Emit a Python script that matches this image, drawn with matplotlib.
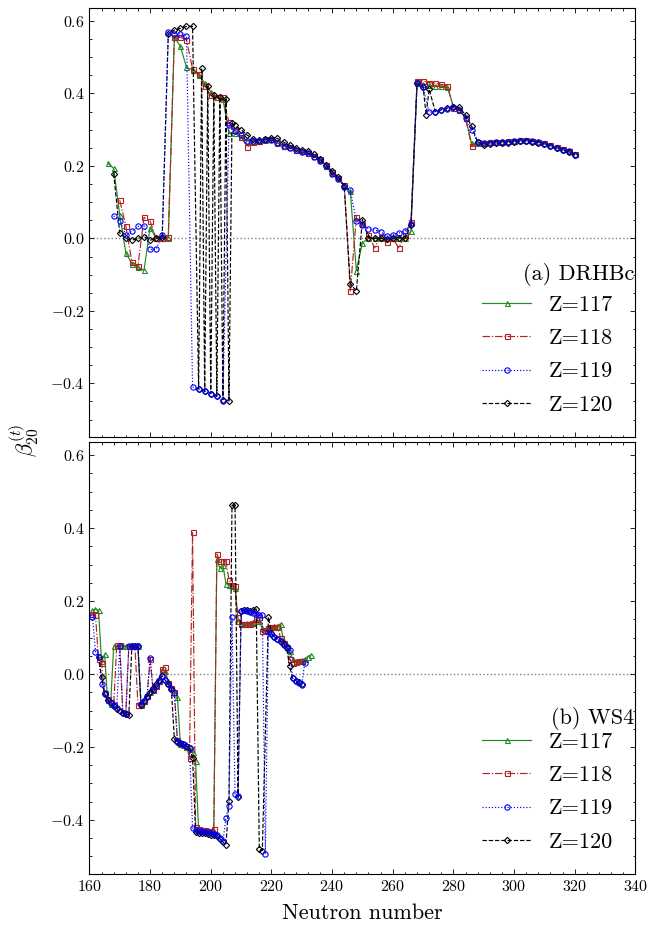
import matplotlib
matplotlib.use('Agg')
import matplotlib.pyplot as plt
import numpy as np
from matplotlib.ticker import MultipleLocator

plt.rcParams['font.family'] = 'cmr10'
plt.rcParams['mathtext.fontset'] = 'cm'
plt.rcParams['axes.formatter.use_mathtext'] = True

# ---------------- (a) DRHBc ----------------
n_a117 = np.arange(166, 321, 2)
b_a117 = [0.208, 0.193, 0.064, -0.040, -0.070, -0.080, -0.088, 0.030, 0.000, 0.000, 0.002,
          0.555, 0.530, 0.472, 0.465, 0.450, 0.430, 0.405, 0.390, 0.385,
          0.290, 0.290, 0.280, 0.270, 0.268, 0.270, 0.273, 0.274, 0.264, 0.256, 0.251,
          0.245, 0.240, 0.236, 0.227, 0.217, 0.201, 0.181, 0.166, 0.144, 0.130,
          -0.089, -0.012, 0.000, 0.002, 0.000, 0.002, 0.000, 0.002, 0.000, 0.020,
          0.430, 0.426, 0.423, 0.421, 0.420, 0.418, 0.365, 0.356, 0.332, 0.262, 0.264,
          0.264, 0.266, 0.267, 0.268, 0.269, 0.270, 0.272, 0.272, 0.270, 0.266, 0.262,
          0.257, 0.251, 0.246, 0.240, 0.232]

n_a118 = np.arange(170, 321, 2)
b_a118 = [0.105, 0.035, -0.065, -0.075, 0.058, 0.048, 0.000, 0.000, 0.005,
          0.555, 0.555, 0.548, 0.468, 0.455, 0.420, 0.395, 0.390, 0.390,
          0.320, 0.300, 0.280, 0.252, 0.266, 0.270, 0.274, 0.274, 0.266, 0.256,
          0.252, 0.245, 0.240, 0.236, 0.228, 0.218, 0.202, 0.183, 0.168, 0.147,
          -0.145, 0.060, 0.040, 0.010, -0.026, 0.005, -0.010, 0.000, -0.026, 0.010, 0.045,
          0.435, 0.435, 0.430, 0.428, 0.425, 0.422, 0.360, 0.355, 0.332, 0.254, 0.265,
          0.263, 0.265, 0.266, 0.267, 0.268, 0.269, 0.271, 0.271, 0.269, 0.266, 0.262,
          0.257, 0.251, 0.246, 0.240, 0.232]

n_a119 = np.arange(168, 321, 2)
b_a119 = [0.062, 0.048, 0.010, 0.020, 0.033, 0.035, -0.030, -0.030, 0.010,
          0.570, 0.565, 0.565, 0.560,
          -0.410, -0.416, -0.422, -0.428, -0.436, -0.448,
          0.312, 0.296, 0.286, 0.270, 0.268, 0.270, 0.272, 0.272, 0.262, 0.254, 0.250,
          0.243, 0.238, 0.235, 0.225, 0.215, 0.199, 0.179, 0.165, 0.142, 0.133,
          0.048, 0.037, 0.027, 0.023, 0.018, 0.006, 0.010, 0.015, 0.020, 0.041,
          0.428, 0.419, 0.348, 0.350, 0.354, 0.357, 0.362, 0.354, 0.333, 0.298, 0.266,
          0.262, 0.264, 0.265, 0.266, 0.267, 0.268, 0.270, 0.270, 0.268, 0.265, 0.261,
          0.256, 0.250, 0.245, 0.240, 0.231]

n_a120 = [168, 170, 172, 174, 176, 178, 180, 182, 184, 186, 188, 190, 192, 194,
          196, 197, 198, 199, 200, 201, 202, 203, 204, 205, 206, 207,
          208, 210, 212, 214, 216, 218, 220, 222, 224, 226, 228, 230, 232, 234, 236,
          238, 240, 242, 244,
          246, 248, 250, 252, 254, 256, 258, 260, 262, 264, 266,
          268, 270, 271, 272, 274, 276, 278, 280, 282, 284, 286, 288,
          290, 292, 294, 296, 298, 300, 302, 304, 306, 308, 310, 312, 314, 316, 318, 320]
b_a120 = [0.179, 0.015, 0.000, -0.005, 0.000, 0.005, -0.005, 0.000, 0.005, 0.565, 0.575,
          0.580, 0.585, 0.585,
          -0.415, 0.470, -0.422, 0.420, -0.428, 0.395, -0.436, 0.390, -0.445, 0.385,
          -0.449, 0.318,
          0.312, 0.300, 0.285, 0.275, 0.272, 0.274, 0.276, 0.276, 0.266, 0.257, 0.250,
          0.245, 0.240, 0.232, 0.220, 0.204, 0.185, 0.170, 0.145,
          -0.125, -0.145, 0.052, 0.002, 0.000, 0.000, -0.002, 0.000, 0.002, 0.000, 0.037,
          0.428, 0.418, 0.342, 0.412, 0.350, 0.355, 0.360, 0.364, 0.362, 0.340, 0.310, 0.266,
          0.258, 0.260, 0.262, 0.263, 0.264, 0.266, 0.268, 0.269, 0.267, 0.264, 0.260,
          0.255, 0.249, 0.244, 0.238, 0.229]

# ---------------- (b) WS4 ----------------
n_b117 = np.arange(161, 234)
b_b117 = [0.175, 0.178, 0.175, 0.036, 0.054, -0.072, -0.082, 0.077, 0.078, 0.078,
          0.077, 0.077, 0.077, 0.077, 0.077, 0.076, -0.085, -0.073, -0.060, -0.048,
          -0.040, -0.030, -0.015, 0.010, 0.008, -0.020, -0.035, -0.045, -0.062, -0.192,
          -0.195, -0.200, -0.205, -0.215, -0.239, -0.428, -0.430, -0.430, -0.431, -0.432,
          -0.430, 0.315, 0.290, 0.300, 0.248, 0.245, 0.240, 0.237, 0.145, 0.140,
          0.138, 0.140, 0.140, 0.142, 0.144, 0.146, 0.125, 0.122, 0.125, 0.128,
          0.132, 0.132, 0.138, 0.090, 0.080, 0.062, 0.042, 0.035, 0.035, 0.038,
          0.042, 0.048, 0.052]

n_b118 = np.arange(161, 231)
b_b118 = [0.165, 0.162, 0.040, 0.030, -0.053, -0.068, -0.078, -0.086, 0.080, 0.079,
          -0.105, -0.108, 0.078, 0.078, 0.077, -0.085, -0.083, -0.073, -0.060, 0.040,
          -0.045, -0.032, -0.018, 0.015, 0.020, -0.025, -0.038, -0.050, -0.180, -0.188,
          -0.192, -0.197, -0.230, 0.390, -0.420, -0.426, -0.428, -0.428, -0.429, -0.430,
          -0.425, 0.329, 0.310, 0.310, 0.310, 0.258, 0.245, 0.240, 0.155, 0.138,
          0.138, 0.138, 0.138, 0.140, 0.150, 0.155, 0.118, 0.120, 0.125, 0.128,
          0.130, 0.130, 0.100, 0.085, 0.075, 0.040, 0.030, 0.032, 0.035, 0.036]

n_b119 = np.arange(161, 232)
b_b119 = [0.157, 0.061, 0.048, -0.028, -0.053, -0.070, -0.079, -0.086, -0.094, 0.077,
          -0.106, -0.109, 0.077, 0.077, 0.077, 0.076, -0.083, -0.073, -0.060, 0.043,
          -0.045, -0.032, -0.018, -0.005, -0.017, -0.028, -0.040, -0.053, -0.184, -0.190,
          -0.193, -0.198, -0.203, -0.422, -0.428, -0.430, -0.431, -0.432, -0.433, -0.436,
          -0.438, -0.440, -0.450, -0.458, -0.395, -0.362, 0.155, -0.330, -0.333, 0.173,
          0.175, 0.173, 0.170, 0.168, 0.165, 0.162, 0.162, -0.493, 0.116, 0.109,
          0.101, 0.095, 0.091, 0.080, 0.074, 0.066, -0.012, -0.018, -0.024, -0.029,
          0.031]

n_b120 = [163, 164, 165, 166, 167, 168, 169, 170, 171, 172, 173, 174, 175, 176, 177,
          178, 179, 180, 181, 182, 183, 184, 185, 186, 187, 188, 189, 190, 191, 192,
          193, 194, 195, 196, 197, 198, 199, 200, 201, 202, 203, 204, 205, 206, 207,
          208, 209, 210, 211, 212, 213, 214, 215, 216, 217, 219, 220, 221, 222, 223,
          224, 225, 226, 227, 228, 229, 230]
b_b120 = [0.048, -0.008, -0.055, -0.070, -0.080, -0.088, -0.095, -0.102, -0.107, -0.110,
          -0.112, 0.077, 0.077, 0.076, -0.085, -0.074, -0.062, -0.048, -0.038, -0.027,
          -0.017, -0.005, -0.017, -0.028, -0.040, -0.178, -0.185, -0.190, -0.193, -0.197,
          -0.203, -0.230, -0.432, -0.435, -0.436, -0.437, -0.438, -0.440, -0.442, -0.445,
          -0.452, -0.460, -0.468, -0.349, 0.462, 0.462, -0.338, 0.172, 0.176, 0.175,
          0.174, 0.175, 0.178, -0.479, -0.484, 0.156, 0.112, 0.102, 0.096, 0.088,
          0.082, 0.072, 0.022, -0.012, -0.018, -0.023, -0.028]

labels = ['Z=117', 'Z=118', 'Z=119', 'Z=120']
colors = ['forestgreen', 'firebrick', 'blue', 'black']
lstyles = ['-', '-.', ':', '--']
markers = ['^', 's', 'o', 'D']
msizes = [3.6, 3.6, 3.8, 3.2]

fig = plt.figure(figsize=(6.48, 9.27), dpi=100)
ax1 = fig.add_axes([0.138, 0.5286, 0.8426, 0.4628])
ax2 = fig.add_axes([0.138, 0.0572, 0.8426, 0.466], sharex=ax1)

data_a = [(n_a117, b_a117), (n_a118, b_a118), (n_a119, b_a119), (n_a120, b_a120)]
data_b = [(n_b117, b_b117), (n_b118, b_b118), (n_b119, b_b119), (n_b120, b_b120)]

for ax, data, tag in [(ax1, data_a, '(a) DRHBc'), (ax2, data_b, '(b) WS4')]:
    ax.axhline(0, color='gray', ls=':', lw=1.0, zorder=1)
    for i in range(4):
        n, b = data[i]
        ax.plot(n, b, color=colors[i], ls=lstyles[i], lw=0.85, marker=markers[i],
                ms=msizes[i], mfc='none', mew=0.8, label=labels[i], zorder=2 + (i == 2))
    ax.set_xlim(160, 340)
    ax.set_ylim(-0.548, 0.636)
    ax.xaxis.set_major_locator(MultipleLocator(20))
    ax.xaxis.set_minor_locator(MultipleLocator(4))
    ax.yaxis.set_major_locator(MultipleLocator(0.2))
    ax.yaxis.set_minor_locator(MultipleLocator(0.05))
    ax.tick_params(which='both', direction='in', top=True, right=True, labelsize=11.5)
    ax.tick_params(which='major', length=3.5, width=0.6)
    ax.tick_params(which='minor', length=1.8, width=0.6)
    for s in ax.spines.values():
        s.set_linewidth(0.8)
    ax.legend(loc='lower right', frameon=False, fontsize=16, handlelength=2.2,
              handletextpad=0.8, labelspacing=0.62, borderaxespad=0.6)
    ax.text(0.998, 0.378 if ax is ax1 else 0.36, tag, transform=ax.transAxes,
            ha='right', va='center', fontsize=16)

ax1.tick_params(labelbottom=False)
ax2.set_xlabel('Neutron number', fontsize=16, labelpad=7)
fig.text(0.038, 0.525, r'$\beta_{20}^{(t)}$', rotation=90, fontsize=16,
         ha='center', va='center')

fig.savefig('out.png', dpi=100)
